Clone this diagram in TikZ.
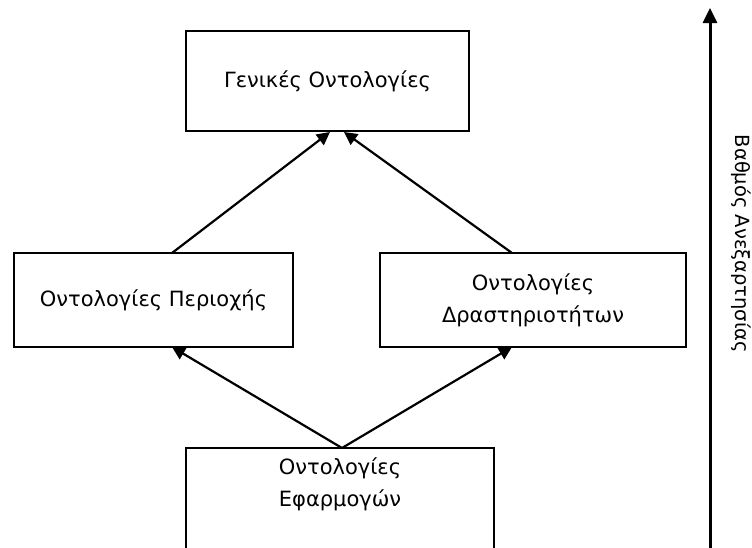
\documentclass[tikz,border=0pt]{standalone}
\usepackage{fontspec}
\setmainfont{DejaVu Sans}
\usetikzlibrary{arrows.meta}
\begin{document}
\begin{tikzpicture}[x=1pt,y=-1pt,
  boxst/.style={draw=black,line width=2.2pt},
  lbl/.style={font=\fontsize{21}{32}\selectfont,align=center,inner sep=0pt},
  axlbl/.style={font=\fontsize{19.5}{24}\selectfont,inner sep=0pt},
  arr/.style={line width=2.2pt,-{Triangle[length=13pt,width=13pt]}}]
\useasboundingbox (0,0) rectangle (752,547);
\node[boxst,minimum width=283pt,minimum height=100pt] (top) at (327.5,81) {};
\node[lbl] at (top.center) {Γενικές Οντολογίες};
\node[boxst,minimum width=279pt,minimum height=94pt] (left) at (153.5,300) {};
\node[lbl] at (left.center) {Οντολογίες Περιοχής};
\node[boxst,minimum width=306pt,minimum height=94pt] (right) at (533,300) {};
\node[lbl] at (right.center) {Οντολογίες\\Δραστηριοτήτων};
\node[boxst,minimum width=308pt,minimum height=130pt] (bot) at (340,513) {};
\node[lbl] at (340,484) {Οντολογίες\\Εφαρμογών};
\coordinate (tl) at (330,132);
\coordinate (tr) at (344,132);
\coordinate (ml) at (172,253);
\coordinate (mr) at (512,253);
\coordinate (bl) at (172,347);
\coordinate (br) at (512,347);
\coordinate (bc) at (342,448);
\draw[arr] (ml) -- (tl);
\draw[arr] (mr) -- (tr);
\draw[arr] (bc) -- (bl);
\draw[arr] (bc) -- (br);
\coordinate (vb) at (710,560);
\coordinate (vt) at (710,8);
\draw[line width=3pt,-{Triangle[length=15pt,width=14pt]}] (vb) -- (vt);
\node[axlbl,rotate=-90] (ax) at (741,244) {Βαθμός Ανεξαρτησίας};
\end{tikzpicture}
\end{document}
